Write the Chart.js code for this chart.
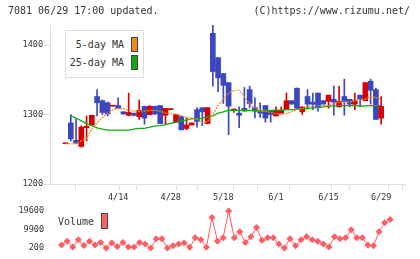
<!DOCTYPE html>
<html>
<head>
<meta charset="utf-8">
<script src="https://cdn.jsdelivr.net/npm/chart.js@4.4.1/dist/chart.umd.min.js"></script>
<style>
  html, body { margin: 0; padding: 0; background: #fff; }
  #wrap { position: relative; width: 420px; height: 259px; overflow: hidden;
          font-family: "DejaVu Sans Mono", monospace; font-size: 10px; color: #333; }
  #wrap canvas { position: absolute; left: 0; }
  #main { top: 0; }
  #vol { top: 200px; }
  .txt { position: absolute; white-space: pre; line-height: 12px; }
  .sw { position: absolute; box-sizing: border-box; border: 1px solid #444; }
  #legbox { position: absolute; left: 65px; top: 30px; width: 79px; height: 48px;
            box-sizing: border-box; border: 1px solid #ddd; background: #fff; }
</style>
</head>
<body>
<div id="wrap">
  <canvas id="main" width="420" height="205"></canvas>
  <canvas id="vol" width="420" height="59"></canvas>
  <div class="txt" style="left:8px;top:5px">7081 06/29 17:00 updated.</div>
  <div class="txt" style="right:10px;top:5px">(C)https://www.rizumu.net/</div>
  <div id="legbox"></div>
  <div class="txt" style="right:296px;top:39px">5-day MA</div>
  <div class="sw" style="left:131px;top:37px;width:7px;height:15px;background:#ee8a1c"></div>
  <div class="txt" style="right:296px;top:57px">25-day MA</div>
  <div class="sw" style="left:131px;top:55px;width:7px;height:15px;background:#13a813"></div>
  <div class="txt" style="left:58px;top:216px">Volume</div>
  <div class="sw" style="left:101px;top:213px;width:7px;height:16px;background:#ff6060"></div>
</div>
<script>
// ==================== DATA ====================
const dateLabels = ['4/14', '4/28', '5/18', '6/1', '6/15', '6/29'];
const dateIdx = [10, 20, 30, 40, 50, 60];

const open = [1258,1288,1263,1254,1281,1285,1326,1320,1317,1312,
  1313,1304,1299,1302,1297,1312,1300,1312,1313,1299,
  1307,1289,1297,1280,1285,1307,1310,1287,1417,1382,
  1359,1346,1306,1302,1309,1336,1310,1304,1313,1305,
  1298,1301,1307,1320,1338,1304,1326,1318,1331,1320,
  1319,1322,1311,1326,1322,1315,1328,1320,1348,1336,
  1295];
const high = [1258,1300,1294,1284,1298,1299,1336,1321,1318,1313,
  1324,1304,1331,1302,1321,1312,1313,1312,1313,1309,
  1308,1300,1298,1295,1288,1310,1310,1310,1429,1382,
  1359,1346,1308,1311,1339,1341,1324,1317,1313,1305,
  1311,1311,1331,1320,1338,1311,1336,1331,1331,1320,
  1328,1341,1341,1351,1322,1331,1328,1346,1351,1338,
  1326];
const low = [1258,1262,1258,1253,1262,1285,1298,1300,1298,1312,
  1309,1300,1298,1298,1293,1286,1300,1300,1287,1286,
  1307,1289,1278,1278,1285,1282,1284,1287,1341,1333,
  1316,1271,1303,1281,1305,1310,1295,1296,1289,1289,
  1298,1301,1307,1315,1307,1300,1308,1307,1305,1315,
  1309,1299,1311,1299,1311,1307,1312,1320,1315,1293,
  1286];
const close = [1258,1265,1259,1282,1283,1299,1317,1303,1301,1313,
  1309,1301,1303,1299,1306,1295,1312,1301,1287,1309,
  1308,1300,1278,1285,1288,1290,1304,1310,1362,1353,
  1342,1312,1308,1299,1305,1316,1305,1302,1295,1300,
  1306,1306,1320,1315,1309,1311,1315,1315,1310,1315,
  1328,1318,1319,1319,1315,1320,1322,1346,1335,1293,
  1312];

const ma5 = [1258,1258,1258,1262,1266,1279,1288,1296,1302,1307,
  1308.5,1308.5,1306,1305,1305,1305,1306,1306,1305,1302,
  1301,1301,1298,1296,1295,1293,1289,1290,1300,1313,
  1322,1331,1335,1335,1326,1316,1309,1306.5,1305,1303,
  1301.5,1301.5,1301.5,1304,1307.5,1308.5,1311.5,1313,1313,1313,
  1313,1316,1318,1318,1318,1319.5,1322,1322,1326.5,1324.5,
  1322];
const ma25 = [null,1298,1295,1291,1287,1284,1281,1279,1277.5,1277.5,
  1277.5,1277.5,1277.5,1279,1280,1280,1282,1283.5,1284,1285.5,
  1287.5,1289,1291,1292,1294,1294.5,1295,1297,1298,1302,
  1304,1306.5,1306,1306,1306,1306,1305.5,1305.5,1305.5,1306,
  1306.5,1306.5,1307,1307,1307.5,1308.5,1308.5,1310,1310,1311,
  1312,1312.5,1313,1313,1313,1313,1312,1312.5,1313,1313,
  1313];

const volume = [null,1790,3710,680,4530,1450,3710,1790,3090,200,
  2750,970,3090,680,680,3090,2270,200,5010,5010,
  200,1310,2270,2750,490,5490,4530,490,16220,3710,
  5490,19600,5490,8670,3090,6120,10930,4190,5490,5490,
  2270,200,5010,1310,4530,6120,4530,3710,2270,680,
  6120,5010,5490,9820,5490,5490,1790,1310,8670,13480,
  15110];

const priceTicks = [1200, 1300, 1400];
const volTicks = [200, 9900, 19600];

// ==================== STYLE ====================
const UP = '#d90000';
const DOWN = '#3c46be';
const AXIS = '#dddddd';
const TXT = '#333333';
const tickFont = { family: 'DejaVu Sans Mono', size: 8.5 };
const xMin = -1.08, xMax = 62.66;

Chart.defaults.font.family = 'DejaVu Sans Mono';
Chart.defaults.animation = false;

function candleColors() {
  return open.map((o, i) => close[i] >= o ? UP : DOWN);
}

function gridTicks() {
  const step = (xMax - xMin) / 11;
  const t = [];
  for (let k = 0; k <= 11; k++) t.push({ value: xMin + k * step });
  dateIdx.forEach((v, j) => t.push({ value: v, lbl: dateLabels[j] }));
  return t.sort((a, b) => a.value - b.value);
}

// ==================== MAIN CHART ====================
function renderMain() {
  const colors = candleColors();
  new Chart(document.getElementById('main'), {
    type: 'bar',
    data: {
      datasets: [
        {
          type: 'line', order: 0,
          data: ma5.map((v, i) => ({ x: i, y: v })),
          borderColor: '#ee8a1c', borderWidth: 1.2, borderDash: [2, 1],
          pointRadius: 0, tension: 0
        },
        {
          type: 'line', order: 0,
          data: ma25.map((v, i) => ({ x: i, y: v })),
          borderColor: '#13a813', borderWidth: 1.3,
          pointRadius: 0, tension: 0, spanGaps: true
        },
        {
          order: 1, grouped: false,
          data: open.map((o, i) => ({ x: i, y: [o, close[i]] })),
          backgroundColor: colors, barThickness: 5, minBarLength: 1,
          borderWidth: 0
        },
        {
          order: 2, grouped: false,
          data: low.map((l, i) => ({ x: i, y: [l, high[i]] })),
          backgroundColor: colors, barThickness: 1, borderWidth: 0
        }
      ]
    },
    options: {
      responsive: false,
      devicePixelRatio: 1,
      layout: { padding: { top: 25, right: 15, bottom: 0, left: 0 } },
      plugins: { legend: { display: false }, tooltip: { enabled: false } },
      scales: {
        x: {
          type: 'linear', min: xMin, max: xMax,
          afterBuildTicks: a => { a.ticks = gridTicks(); },
          afterFit: a => { a.height = 21; },
          grid: {
            drawOnChartArea: false, tickLength: 6, color: AXIS,
            tickColor: ctx => (ctx.tick && ctx.tick.lbl) ? 'rgba(0,0,0,0)' : AXIS
          },
          border: { color: AXIS },
          ticks: {
            autoSkip: false, maxRotation: 0, minRotation: 0, padding: 3,
            font: tickFont, color: TXT,
            callback: (v, i, t) => t[i].lbl || ''
          }
        },
        y: {
          min: 1200, max: 1429,
          afterBuildTicks: a => { a.ticks = priceTicks.map(v => ({ value: v })); },
          afterFit: a => { a.width = 50; },
          grid: { drawOnChartArea: false, tickLength: 6, color: AXIS },
          border: { color: AXIS },
          ticks: { padding: 1, font: tickFont, color: TXT, callback: v => String(v) }
        }
      }
    }
  });
}

// ==================== VOLUME CHART ====================
function renderVolume() {
  new Chart(document.getElementById('vol'), {
    type: 'line',
    data: {
      datasets: [{
        data: volume.map((v, i) => ({ x: i, y: v })),
        borderColor: '#ff5c64', borderWidth: 1,
        pointStyle: 'rectRot', pointRadius: 3.5,
        pointBackgroundColor: '#ff5c64', pointBorderWidth: 0,
        tension: 0, clip: false
      }]
    },
    options: {
      responsive: false,
      devicePixelRatio: 1,
      layout: { padding: { top: 9, right: 15, bottom: 10, left: 0 } },
      plugins: { legend: { display: false }, tooltip: { enabled: false } },
      scales: {
        x: { type: 'linear', min: xMin, max: xMax, display: false },
        y: {
          min: 200, max: 19600,
          afterBuildTicks: a => { a.ticks = volTicks.map(v => ({ value: v })); },
          afterFit: a => { a.width = 50; },
          grid: { display: false, drawTicks: false },
          border: { display: false },
          ticks: { padding: 6, font: tickFont, color: TXT, callback: v => String(v) }
        }
      }
    }
  });
}

// ==================== MAIN ====================
renderMain();
renderVolume();
</script>
</body>
</html>
